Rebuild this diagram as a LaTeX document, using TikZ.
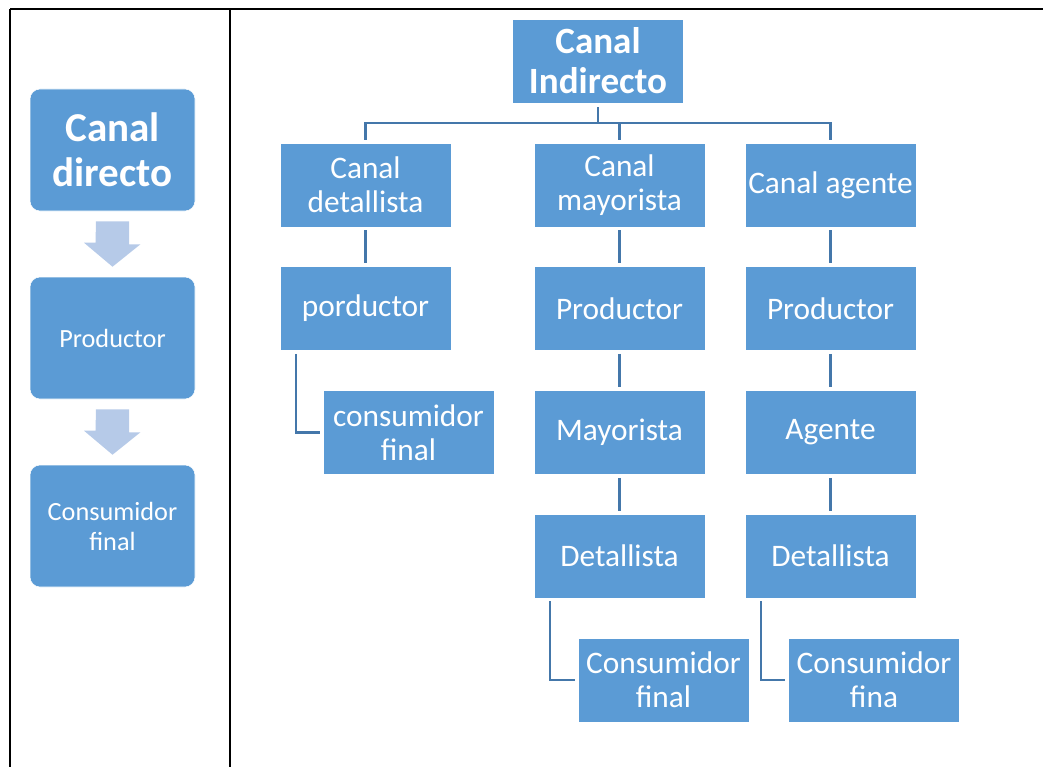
\documentclass[tikz,border=0pt]{standalone}
\usepackage{fontspec}
\setmainfont{Carlito}
\usepackage{tikz}
\usetikzlibrary{calc}
\definecolor{boxblue}{RGB}{91,155,213}
\definecolor{lineblue}{RGB}{68,119,170}
\definecolor{arrowblue}{RGB}{182,202,232}
\tikzset{>=stealth}
\tikzset{
  box/.style={fill=boxblue, draw=white, line width=0.4pt, text=white, align=center,
    minimum width=128.25pt, minimum height=63pt, inner sep=1pt,
    font=\fontsize{23.5}{25.5}\selectfont},
  topbox/.style={box, font=\bfseries\fontsize{27.8}{30}\selectfont},
  dbox/.style={box, rounded corners=7.5pt, minimum width=123.75pt, minimum height=91.5pt,
    font=\fontsize{19.7}{22.5}\selectfont},
  dtitle/.style={dbox, font=\bfseries\fontsize{30.8}{33.75}\selectfont},
  conn/.style={draw=lineblue, line width=1.6pt},
  blockarrow/.style={fill=arrowblue, draw=none},
  rule/.style={line width=1.5pt, black}
}

\begin{document}
\begin{tikzpicture}[x=0.75pt, y=-0.75pt]
  \useasboundingbox (0,0) rectangle (1043,767);

  % table lines
  \draw[rule] (10,9) -- (1043,9);
  \draw[rule] (10,9) -- (10,767);
  \draw[rule] (230,9) -- (230,767);

  % canal directo
  \node[dtitle] (directo) at (112.5,150) {Canal\\directo};
  \node[dbox] (dprod) at (112.5,338) {Productor};
  \node[dbox] (dcons) at (112.5,526) {Consumidor\\final};

  \foreach \a/\b in {directo/dprod, dprod/dcons} {
    \fill[blockarrow] ($(\a.south)+(-16.5,10)$) -- ++(33,0) -- ++(0,23)
      -- ++(11.5,0) -- ($(\b.north)+(0,-10)$) -- ++(-28.5,-24) -- ++(11.5,0) -- cycle;
  }

  % canal indirecto
  \node[topbox] (indirecto) at (598,61) {Canal\\Indirecto};

  \node[box] (detal) at (365.5,185) {Canal\\detallista};
  \node[box] (mayor) at (619.5,185) {Canal\\mayorista};
  \node[box] (agente) at (830.5,185) {Canal agente};

  \node[box] (porductor) at (365.5,308.5) {porductor};
  \node[box] (prodm) at (619.5,308.5) {Productor};
  \node[box] (proda) at (830.5,308.5) {Productor};

  \node[box] (consd) at (408.5,432.5) {consumidor\\final};
  \node[box] (mayorista) at (619.5,432.5) {Mayorista};
  \node[box] (agent) at (830.5,432.5) {Agente};

  \node[box] (detm) at (619.5,556) {Detallista};
  \node[box] (deta) at (830.5,556) {Detallista};

  \node[box] (consm) at (663.5,680) {Consumidor\\final};
  \node[box] (consa) at (874,680) {Consumidor\\fina};

  % connectors
  \foreach \c in {detal, mayor, agente}
    \draw[conn] ($(indirecto.south)+(0,4)$) -- ++(0,16) -| ($(\c.north)+(0,-3)$);

  \foreach \a/\b in {detal/porductor, mayor/prodm, prodm/mayorista, mayorista/detm,
                     agente/proda, proda/agent, agent/deta}
    \draw[conn] ($(\a.south)+(0,3)$) -- ($(\b.north)+(0,-3)$);

  \draw[conn] ($(porductor.south west)+(16,3)$) |- ($(consd.west)+(-3,0)$);
  \draw[conn] ($(detm.south west)+(16,3)$) |- ($(consm.west)+(-3,0)$);
  \draw[conn] ($(deta.south west)+(16,3)$) |- ($(consa.west)+(-3,0)$);

\end{tikzpicture}
\end{document}
